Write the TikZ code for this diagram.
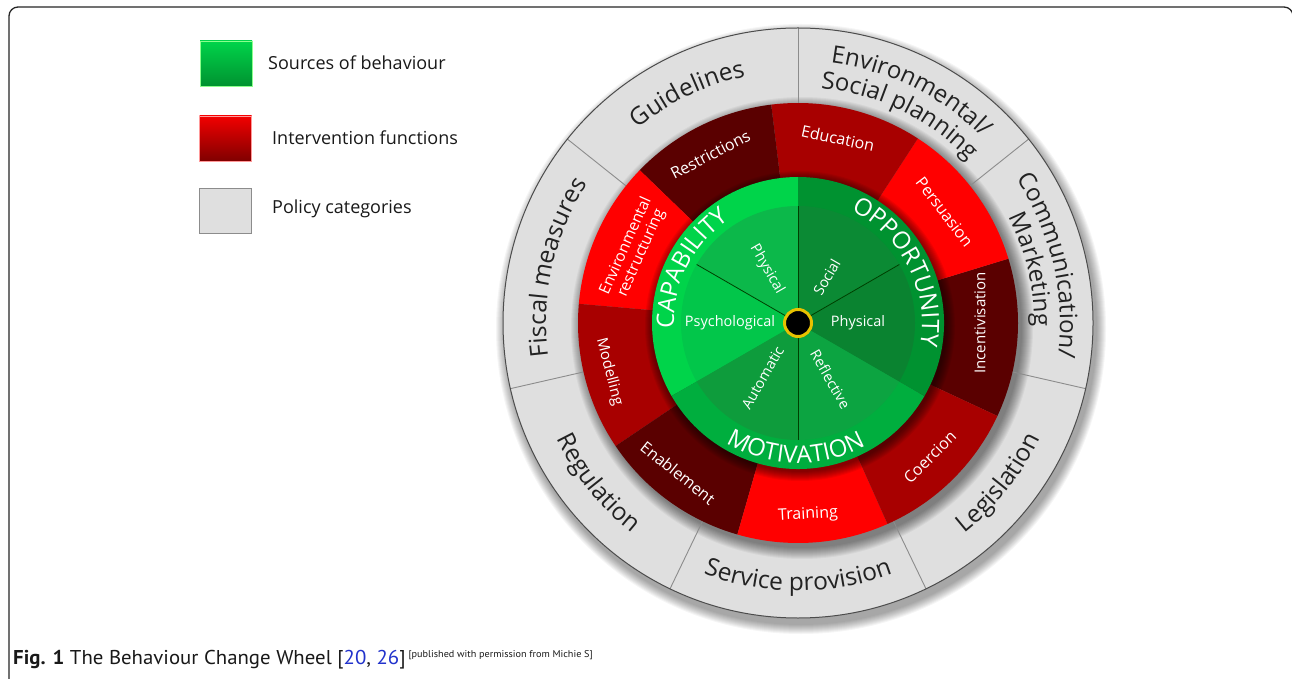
\documentclass[tikz,border=0pt]{standalone}
\usepackage{fontspec}
\newfontfamily\wf{Open Sans}
\newfontfamily\capfont[FakeStretch=1.04]{PT Sans}
\usetikzlibrary{decorations.text,calc}
\definecolor{greyring}{HTML}{DFDFDF}
\definecolor{txtdark}{HTML}{222222}
\definecolor{redB}{HTML}{FF0000}
\definecolor{redM}{HTML}{A80000}
\definecolor{redD}{HTML}{5A0000}
\definecolor{capO}{HTML}{00D44A}
\definecolor{capA}{HTML}{0CB84A}
\definecolor{capB}{HTML}{02C64A}
\definecolor{motO}{HTML}{00AE3E}
\definecolor{motA}{HTML}{0E9C3C}
\definecolor{motB}{HTML}{0CA441}
\definecolor{oppO}{HTML}{009230}
\definecolor{oppA}{HTML}{0A8330}
\definecolor{oppB}{HTML}{0B8A34}
\definecolor{hubyellow}{HTML}{E8C200}
\definecolor{linkblue}{HTML}{2233CC}
\newcommand\bcwarc[6]{%
  \path[decorate, decoration={text along path, text align=center, text color=#5,
    text={|\wf\fontsize{#4}{#4}\selectfont|#6}}]
    ($(c)+(#2:#1)$) arc[start angle=#2, end angle=#3, radius=#1];}
\newcommand\bcwsector[5]{% r1 r2 a1 a2 colour
  \fill[#5] ($(c)+(#3:#2)$) arc[start angle=#3, end angle=#4, radius=#2]
    -- ($(c)+(#4:#1)$) arc[start angle=#4, end angle=#3, radius=#1] -- cycle;}
\begin{document}
\begin{tikzpicture}[x=1pt,y=1pt,
  legbox/.style={minimum width=52, minimum height=45, inner sep=0, line width=0.8},
  legtext/.style={anchor=west, inner sep=0, font=\wf\fontsize{18}{20}\selectfont, text=black!90},
  redlab/.style={text=white, inner sep=0, font=\wf\fontsize{16}{18}\selectfont},
  greenlab/.style={text=white, inner sep=0, font=\wf\fontsize{14.5}{16}\selectfont},
  polline/.style={draw=black!45, line width=0.9},
  subline/.style={draw=black!75!green, line width=0.8}]
\useasboundingbox (0,0) rectangle (1292,678);
\fill[white] (0,0) rectangle (1292,678);
\coordinate (c) at (798,355);

% frame
\draw[line width=1.3, black!85] (9,-3) -- (9,662) arc[start angle=180, end angle=90, radius=9]
  -- (1284,671) arc[start angle=90, end angle=0, radius=9] -- (1293,-3);

% legend
\node[legbox, draw=green!45!white, top color=capO, bottom color=oppO] (lgA) at (226,614.5) {};
\node[legbox, draw=red!40!white, top color=red!95!black, bottom color=red!50!black] (lgB) at (225.5,539.5) {};
\node[legbox, draw=black!45, fill=greyring] (lgC) at (225.5,467) {};
\node[legtext] (lgtA) at (268,615) {Sources of behaviour};
\node[legtext] (lgtB) at (272,540) {Intervention functions};
\node[legtext] (lgtC) at (272,469) {Policy categories};

% outer shadow
\foreach \k in {1,...,10}{\pgfmathsetmacro\rr{295+\k}
  \fill[black, opacity=0.04] ($(c)+(3,-6)$) circle[radius=\rr];}
% grey ring
\fill[greyring] (c) circle[radius=295];
% red ring shadow
\foreach \k in {1,...,12}{\pgfmathsetmacro\rr{219+\k}
  \fill[black, opacity=0.045] ($(c)+(4,-5)$) circle[radius=\rr];}
\foreach \a in {90,38.57,-12.86,-64.29,-115.71,-167.14,141.43}
  \draw[polline] ($(c)+(\a:220)$) -- ($(c)+(\a:295)$);
\draw[black!70, line width=1] (c) circle[radius=295];

% policy labels
\bcwarc{252}{145.7}{85.7}{24.5}{txtdark}{Guidelines}
\bcwarc{262}{99}{29}{24}{txtdark}{Environmental/}
\bcwarc{236}{99}{29}{24}{txtdark}{Social planning}
\bcwarc{262}{48}{-22}{24}{txtdark}{Communication/}
\bcwarc{236}{48}{-22}{24}{txtdark}{Marketing}
\bcwarc{252}{207}{127}{24.5}{txtdark}{Fiscal measures}
\bcwarc{268}{188.6}{248.6}{24.5}{txtdark}{Regulation}
\bcwarc{268}{235}{305}{24.5}{txtdark}{Service provision}
\bcwarc{268}{291.4}{351.4}{24.5}{txtdark}{Legislation}

% red ring
\bcwsector{140}{220}{-25}{17}{redD}
\bcwsector{140}{220}{17}{57}{redB}
\bcwsector{140}{220}{57}{97}{redM}
\bcwsector{140}{220}{97}{136}{redD}
\bcwsector{140}{220}{136}{175}{redB}
\bcwsector{140}{220}{175}{214}{redM}
\bcwsector{140}{220}{214}{254}{redD}
\bcwsector{140}{220}{254}{294}{redB}
\bcwsector{140}{220}{294}{335}{redM}

% green shadow
\foreach \k in {1,...,10}{\pgfmathsetmacro\rr{145+\k}
  \fill[black, opacity=0.06] ($(c)+(2,-3)$) circle[radius=\rr];}

% green outer
\bcwsector{0}{146}{90}{210}{capO}
\bcwsector{0}{146}{210}{330}{motO}
\bcwsector{0}{146}{-30}{90}{oppO}
% green inner
\bcwsector{0}{117}{90}{150}{capA}
\bcwsector{0}{117}{150}{210}{capB}
\bcwsector{0}{117}{210}{270}{motA}
\bcwsector{0}{117}{270}{330}{motB}
\bcwsector{0}{117}{-30}{30}{oppA}
\bcwsector{0}{117}{30}{90}{oppB}
\foreach \a in {30,90,150,270}
  \draw[subline] (c) -- ($(c)+(\a:117)$);

% red labels
\node[redlab, rotate=27.5] (restr) at ($(c)+(117.5:190)$) {Restrictions};
\node[redlab, rotate=-12.2] (educ) at ($(c)+(77.8:189)$) {Education};
\node[redlab, rotate=-52.8] (pers) at ($(c)+(37.2:184)$) {Persuasion};
\node[redlab, rotate=90, font=\wf\fontsize{15}{17}\selectfont] (incent) at ($(c)+(0:182)$) {Incentivisation};
\node[redlab, rotate=44.5] (coer) at ($(c)+(-45.5:188)$) {Coercion};
\node[redlab, rotate=3] (train) at ($(c)+(273:192)$) {Training};
\node[redlab, rotate=-38.7] (enab) at ($(c)+(231.3:192)$) {Enablement};
\node[redlab, rotate=-75.5, font=\wf\fontsize{15}{17}\selectfont] (model) at ($(c)+(194.5:195)$) {Modelling};
\node[redlab, rotate=65.9, align=center, font=\wf\fontsize{15.5}{17}\selectfont] (envr) at ($(c)+(155.9:180)$) {Environmental\\restructuring};

% green labels
\bcwarc{124}{203}{103}{24}{white}{CAPABILITY}
\bcwarc{124}{77}{-23}{24}{white}{OPPORTUNITY}
\bcwarc{140}{219}{319}{24}{white}{MOTIVATION}
\node[greenlab, rotate=-60] (cphys) at ($(c)+(120:62)$) {Physical};
\node[greenlab] (cpsy) at ($(c)+(180:68)$) {Psychological};
\node[greenlab, rotate=60] (osoc) at ($(c)+(58:54)$) {Social};
\node[greenlab] (ophys) at ($(c)+(0:60)$) {Physical};
\node[greenlab, rotate=60] (mauto) at ($(c)+(237:65)$) {Automatic};
\node[greenlab, rotate=-60] (mrefl) at ($(c)+(300:65)$) {Reflective};

% hub
\node[circle, fill=black, draw=hubyellow, line width=3, minimum size=27, inner sep=0] (hub) at (c) {};

% caption
\node[anchor=base west, inner sep=0, font=\capfont\fontsize{20}{20}\selectfont, text=black!90] (caption) at (13,14)
  {\textbf{Fig. 1} The Behaviour Change Wheel [{\color{linkblue}20}, {\color{linkblue}26}]\kern3pt\raisebox{7pt}{\fontsize{9.8}{9.8}\selectfont [published with permission from Michie S]}};
\end{tikzpicture}
\end{document}
